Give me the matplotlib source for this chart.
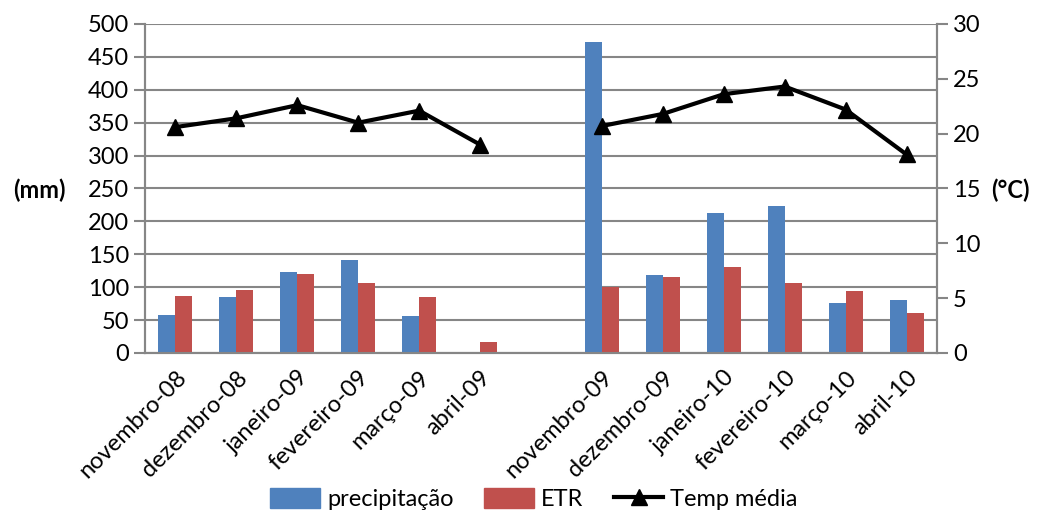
import numpy as np
import matplotlib.pyplot as plt
from matplotlib.lines import Line2D
from matplotlib.patches import Patch

plt.rcParams['font.family'] = ['Lato', 'DejaVu Sans']

# meses (posicao vazia separa as duas safras)
meses = ['novembro-08', 'dezembro-08', 'janeiro-09', 'fevereiro-09', 'março-09', 'abril-09', '',
         'novembro-09', 'dezembro-09', 'janeiro-10', 'fevereiro-10', 'março-10', 'abril-10']
precipitacao = [58, 85, 123, 141, 56, 2, np.nan, 473, 119, 212, 224, 76, 80]
etr = [87, 95, 120, 106, 85, 16, np.nan, 101, 115, 130, 106, 94, 61]
temp_media = [20.6, 21.4, 22.6, 21.0, 22.1, 19.0, np.nan, 20.7, 21.8, 23.6, 24.3, 22.2, 18.1]

azul = '#4F81BD'
vermelho = '#C0504D'
cinza = '#868686'
fs = 17

fig = plt.figure(figsize=(10.37, 5.16), dpi=100)
ax = fig.add_axes([0.1398, 0.3159, 0.7638, 0.6376])
ax2 = ax.twinx()

x = np.arange(len(meses))
w = 0.28
ax.bar(x - w / 2, precipitacao, w, color=azul, zorder=3)
ax.bar(x + w / 2, etr, w, color=vermelho, zorder=3)
ax2.plot(x, temp_media, color='black', lw=3, marker='^', ms=12, zorder=4)

ax.set_xlim(-0.5, len(meses) - 0.5)
ax.set_ylim(0, 500)
ax.set_yticks(range(0, 501, 50))
ax2.set_ylim(0, 30)
ax2.set_yticks(range(0, 31, 5))

ax.grid(axis='y', color=cinza, lw=1.5, zorder=0)
ax.set_axisbelow(True)
for a in (ax, ax2):
    a.spines['top'].set_visible(False)
    for s in ('left', 'right', 'bottom'):
        a.spines[s].set_color(cinza)
        a.spines[s].set_linewidth(1.5)
    a.tick_params(axis='y', labelsize=fs, color=cinza, width=1.5, length=8)

ax.set_xticks(x)
ax.set_xticklabels(meses, rotation=45, ha='right', rotation_mode='anchor', fontsize=fs)
ax.tick_params(axis='x', length=0, pad=10)

ax.set_ylabel('(mm)', rotation=0, fontsize=fs, fontweight='bold', ha='center', va='center')
ax.yaxis.set_label_coords(-0.133, 0.495)
ax2.set_ylabel('(°C)', rotation=0, fontsize=fs, fontweight='bold', ha='center', va='center')
ax2.yaxis.set_label_coords(1.093, 0.495)

legenda = [Patch(color=azul, label='precipitação'),
           Patch(color=vermelho, label='ETR'),
           Line2D([], [], color='black', lw=3, marker='^', ms=12, label='Temp média')]
fig.legend(handles=legenda, loc='lower center', ncol=3, frameon=False, fontsize=fs,
           bbox_to_anchor=(0.515, -0.03), handlelength=2.1, handleheight=0.9,
           handletextpad=0.3, columnspacing=1.3)

fig.savefig('out.png', dpi=100)
